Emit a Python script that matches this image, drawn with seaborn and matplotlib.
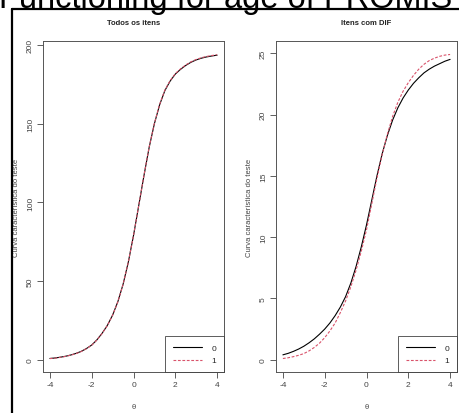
import seaborn as sns
import matplotlib.pyplot as plt
from matplotlib.lines import Line2D

theta = [-4.0, -3.75, -3.5, -3.25, -3.0, -2.75, -2.5, -2.25, -2.0, -1.75, -1.5,
         -1.25, -1.0, -0.75, -0.5, -0.25, 0.0, 0.25, 0.5, 0.75, 1.0, 1.25, 1.5,
         1.75, 2.0, 2.25, 2.5, 2.75, 3.0, 3.25, 3.5, 3.75, 4.0]

# Todos os itens (grupo 0 e grupo 1)
todos_0 = [1.0, 1.3, 1.8, 2.4, 3.2, 4.2, 5.5, 7.3, 9.5, 12.8, 17.0, 22.0, 28.5,
           37.0, 48.0, 62.0, 79.0, 98.0, 117.0, 135.0, 150.0, 162.0, 171.0,
           177.0, 181.5, 184.5, 187.0, 189.0, 190.5, 191.6, 192.4, 193.0, 193.5]
todos_1 = [0.9, 1.2, 1.7, 2.3, 3.1, 4.1, 5.4, 7.2, 9.4, 12.7, 16.9, 21.9, 28.4,
           36.9, 47.9, 62.0, 79.0, 98.0, 117.2, 135.3, 150.3, 162.3, 171.3,
           177.3, 181.8, 184.8, 187.3, 189.3, 190.8, 191.9, 192.7, 193.3, 193.8]

# Itens com DIF
dif_0 = [0.40, 0.52, 0.68, 0.87, 1.10, 1.38, 1.70, 2.08, 2.50, 3.00, 3.60, 4.30,
         5.15, 6.25, 7.60, 9.20, 11.00, 13.00, 15.00, 16.80, 18.30, 19.55, 20.55,
         21.35, 22.00, 22.55, 23.00, 23.40, 23.70, 23.95, 24.15, 24.35, 24.50]
dif_1 = [0.10, 0.16, 0.25, 0.36, 0.50, 0.72, 1.00, 1.35, 1.80, 2.35, 3.00, 3.85,
         4.80, 5.95, 7.30, 8.85, 10.60, 12.70, 14.80, 16.75, 18.40, 19.85, 21.00,
         21.90, 22.60, 23.20, 23.70, 24.10, 24.40, 24.60, 24.75, 24.85, 24.90]

titles = ["Todos os itens", "Itens com DIF"]
grupos = ["0", "1"]
ylabel = "Curva característica do teste"

sns.set_style("white")
plt.rcParams['font.family'] = ['Liberation Sans', 'DejaVu Sans']

fig = plt.figure(figsize=(4.59, 4.14), dpi=100)
ax1 = fig.add_axes([43 / 459, 41 / 414, 181 / 459, 331 / 414])
ax2 = fig.add_axes([276 / 459, 41 / 414, 181 / 459, 331 / 414])

red = '#D9536B'
for ax, y0, y1, title, yt, ylim in [
        (ax1, todos_0, todos_1, titles[0], [0, 50, 100, 150, 200], (-7.6, 202.5)),
        (ax2, dif_0, dif_1, titles[1], [0, 5, 10, 15, 20, 25], (-1.0, 26.0))]:
    sns.lineplot(x=theta, y=y0, color='black', lw=0.8, ax=ax, label=grupos[0])
    sns.lineplot(x=theta, y=y1, color=red, lw=0.8, ls=(0, (2.5, 1.5)), ax=ax,
                 label=grupos[1])
    ax.set_xlim(-4.33, 4.33)
    ax.set_ylim(*ylim)
    ax.set_xticks([-4, -2, 0, 2, 4])
    ax.set_xticklabels(['-4', '-2', '0', '2', '4'])
    ax.set_yticks(yt)
    ax.tick_params(axis='both', direction='out', length=4, width=0.6,
                   colors='#444444', labelsize=6, pad=2.5, left=True, bottom=True)
    for lab in ax.get_yticklabels():
        lab.set_rotation(90)
        lab.set_va('center')
    for s in ax.spines.values():
        s.set_color('#555555')
        s.set_linewidth(0.7)
    ax.set_title(title, fontsize=5.5, fontweight='bold', pad=12, color='#222222')
    ax.set_xlabel('θ', fontsize=5.5, color='#444444', labelpad=11)
    ax.set_ylabel(ylabel, fontsize=5.5, color='#444444', labelpad=5)
    leg = ax.legend(loc='lower right', borderaxespad=0, fancybox=False,
                    fontsize=6, handlelength=3.5, handletextpad=1.2,
                    borderpad=0.9, labelspacing=0.6)
    leg.get_frame().set_edgecolor('#333333')
    leg.get_frame().set_linewidth(0.7)

# moldura preta
fig.add_artist(Line2D([11.5 / 459, 11.5 / 459], [0, 1 - 10 / 414], color='black',
                      lw=1.6, transform=fig.transFigure))
fig.add_artist(Line2D([11.5 / 459, 1], [1 - 10 / 414, 1 - 10 / 414], color='black',
                      lw=1.6, transform=fig.transFigure))

fig.text(0.492, 1 - 8 / 414, "Functioning for age of PROMIS", ha='center',
         va='baseline', fontsize=23.5, color='black')

plt.savefig('out.png', dpi=100)
